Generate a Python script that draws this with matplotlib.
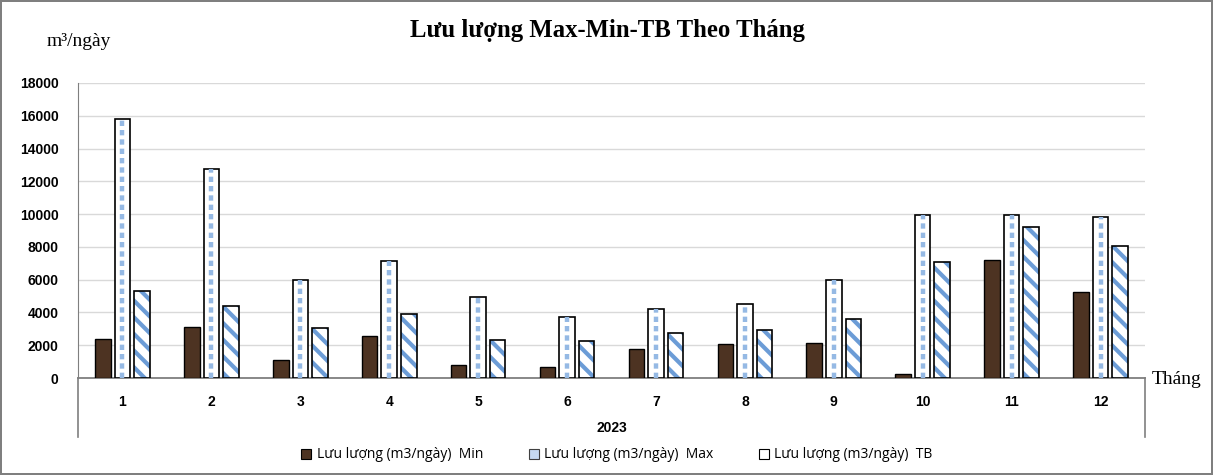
import matplotlib.pyplot as plt
import numpy as np
from matplotlib.patches import Patch
from matplotlib.lines import Line2D

months = ["1", "2", "3", "4", "5", "6", "7", "8", "9", "10", "11", "12"]
year_label = "2023"
q_min = [2400, 3100, 1100, 2550, 800, 650, 1800, 2100, 2150, 270, 7200, 5230]
q_max = [15800, 12750, 5970, 7150, 4920, 3750, 4230, 4500, 6000, 9960, 9960, 9830]
q_tb = [5330, 4400, 3040, 3920, 2300, 2250, 2760, 2920, 3580, 7060, 9230, 8030]
y_ticks = [0, 2000, 4000, 6000, 8000, 10000, 12000, 14000, 16000, 18000]

labels = ["Lưu lượng (m3/ngày)  Min", "Lưu lượng (m3/ngày)  Max", "Lưu lượng (m3/ngày)  TB"]

W, H = 1213, 475


def main():
    plt.rcParams["hatch.linewidth"] = 3.0
    fig = plt.figure(figsize=(W / 100, H / 100), dpi=100)
    fig.patch.set_edgecolor("#7f7f7f")
    fig.patch.set_linewidth(1.5)

    ax = fig.add_axes([78 / W, 97 / H, (1145 - 78) / W, (378 - 83) / H])
    x = np.arange(len(months))
    bw = 0.175
    off = 0.22

    # Min: dark brown bars
    ax.bar(x - off, q_min, bw, color="#4d3322", edgecolor="black", linewidth=1, zorder=3)

    # Max: white bars with a dashed blue stripe down the middle
    ax.bar(x, q_max, bw, color="white", edgecolor="black", linewidth=1.2, zorder=3)
    ax.vlines(x, 0, q_max, colors="#95b9e4", linestyles=(0, (1.2, 0.9)), linewidth=3.2, zorder=4)

    # TB: diagonal blue stripes
    ax.bar(x + off, q_tb, bw, color="white", edgecolor="#6c9cd6", linewidth=0, hatch="\\\\", zorder=3)
    ax.bar(x + off, q_tb, bw, fill=False, edgecolor="black", linewidth=1.2, zorder=4)

    ax.set_xlim(-0.5, len(months) - 0.5)
    ax.set_ylim(0, 18000)
    ax.set_yticks(y_ticks)
    ax.set_yticklabels([str(v) for v in y_ticks], fontsize=10, fontweight="bold", family="Liberation Sans")
    ax.tick_params(axis="y", length=0, pad=14)
    ax.set_xticks(x)
    ax.set_xticklabels(months, fontsize=10, fontweight="bold", family="Liberation Sans")
    ax.tick_params(axis="x", length=0, pad=12)
    ax.grid(axis="y", color="#d9d9d9", linewidth=1, zorder=0)
    ax.set_axisbelow(True)
    for s in ["top", "right"]:
        ax.spines[s].set_visible(False)
    ax.spines["left"].set_color("#7f7f7f")
    ax.spines["bottom"].set_color("#7f7f7f")
    ax.spines["bottom"].set_linewidth(1.3)

    # second-level category lines below the axis
    for xf in [78 / W, 1145 / W]:
        fig.add_artist(Line2D([xf, xf], [(H - 437) / H, 97 / H], color="#7f7f7f", linewidth=1.2))
    fig.text((78 + 1145) / 2 / W, (H - 428) / H, year_label, ha="center", va="center",
             fontsize=10, fontweight="bold", family="Liberation Sans")

    fig.text(607 / W, (H - 31) / H, "Lưu lượng Max-Min-TB Theo Tháng", ha="center", va="center",
             fontsize=17.8, fontweight="bold", family="Liberation Serif")
    fig.text(47 / W, (H - 42) / H, "m³/ngày", ha="left", va="center", fontsize=14,
             family="Liberation Serif")
    fig.text(1152 / W, (H - 379) / H, "Tháng", ha="left", va="center", fontsize=14,
             family="Liberation Serif")

    handles = [
        Patch(facecolor="#4d3322", edgecolor="black", linewidth=0.8),
        Patch(facecolor="#c6d9f1", edgecolor="#404040", linewidth=0.8),
        Patch(facecolor="white", edgecolor="black", linewidth=0.8),
    ]
    fig.legend(handles, labels, loc="center", bbox_to_anchor=(617 / W, (H - 455) / H), ncol=3,
               frameon=False, handlelength=0.7, handleheight=0.7, handletextpad=0.4,
               columnspacing=3.3, prop={"family": "Open Sans", "size": 10})

    fig.savefig("out.png", dpi=100)


if __name__ == "__main__":
    main()
